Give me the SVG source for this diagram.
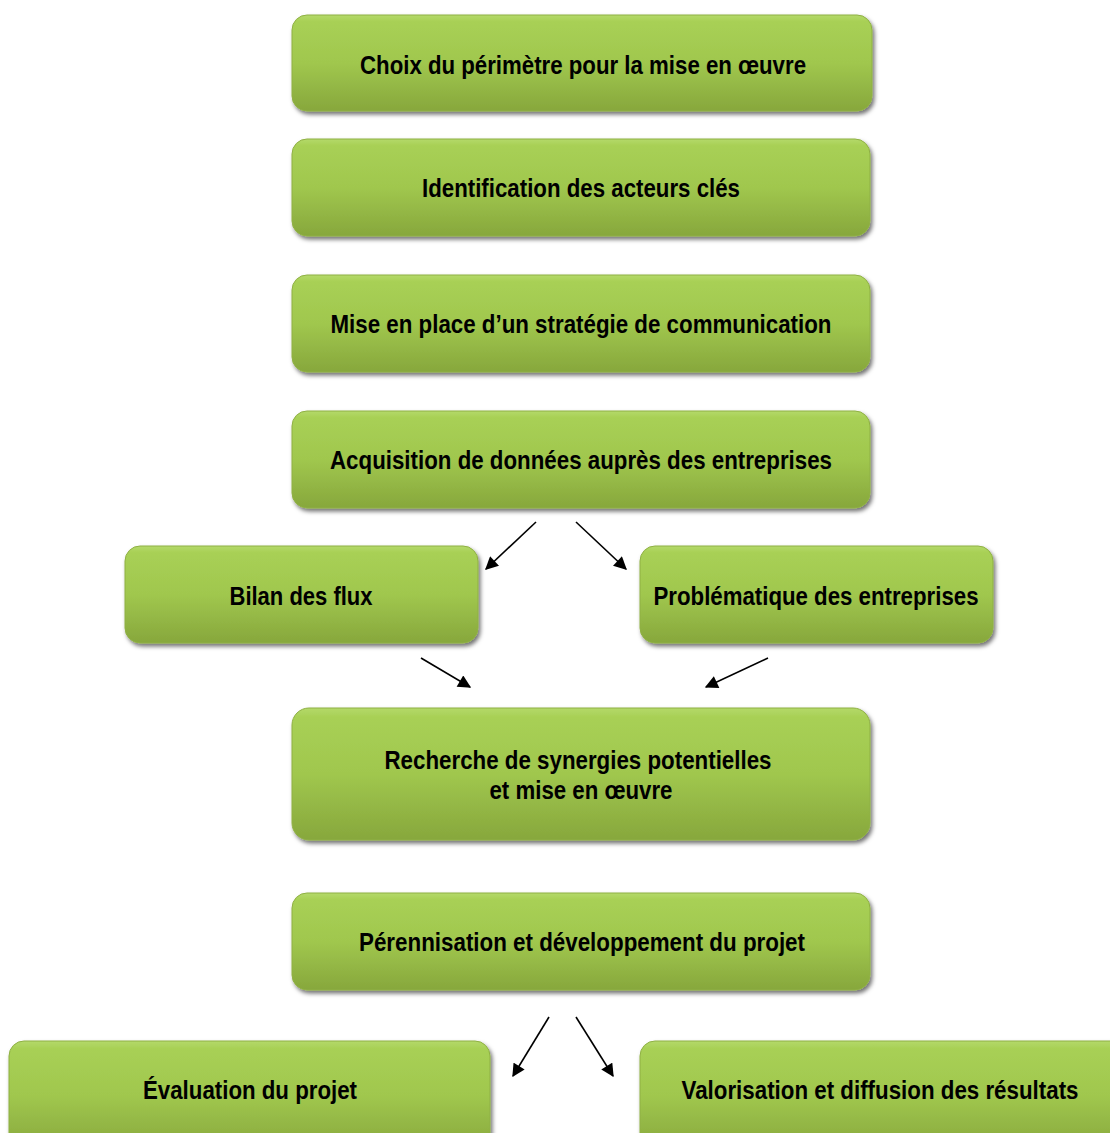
<svg xmlns="http://www.w3.org/2000/svg" width="1110" height="1133" viewBox="0 0 1110 1133">
<defs>
<linearGradient id="g" x1="0" y1="0" x2="0" y2="1">
<stop offset="0" stop-color="#b4d96a"/>
<stop offset="0.07" stop-color="#a8d055"/>
<stop offset="0.5" stop-color="#a0c74e"/>
<stop offset="1" stop-color="#87a73c"/>
</linearGradient>
<filter id="sh" x="-10%" y="-20%" width="120%" height="150%">
<feDropShadow dx="2" dy="3" stdDeviation="2" flood-color="#000" flood-opacity="0.55"/>
</filter>
<marker id="ah" viewBox="0 0 10 10" refX="9" refY="5" markerWidth="14" markerHeight="13" markerUnits="userSpaceOnUse" orient="auto">
<path d="M0,0 L10,5 L0,10 z" fill="#000"/>
</marker>
<style>
.box{fill:url(#g);stroke:#8fb044;stroke-width:1;filter:url(#sh)}
.t{font-family:"Liberation Sans",Arial,sans-serif;font-weight:bold;font-size:26px;fill:#000;text-anchor:middle}
.c{stroke:#000;stroke-width:1.6;fill:none;marker-end:url(#ah)}
</style>
</defs>
<rect width="1110" height="1133" fill="#fff"/>
<g id="n1"><rect class="box" x="292" y="15" width="580" height="96" rx="15"/><text class="t" x="583" y="74" textLength="446" lengthAdjust="spacingAndGlyphs">Choix du périmètre pour la mise en œuvre</text></g>
<g id="n2"><rect class="box" x="292" y="139" width="578" height="97" rx="15"/><text class="t" x="581" y="197" textLength="318" lengthAdjust="spacingAndGlyphs">Identification des acteurs clés</text></g>
<g id="n3"><rect class="box" x="292" y="275" width="578" height="97" rx="15"/><text class="t" x="581" y="333" textLength="501" lengthAdjust="spacingAndGlyphs">Mise en place d’un stratégie de communication</text></g>
<g id="n4"><rect class="box" x="292" y="411" width="578" height="97" rx="15"/><text class="t" x="581" y="469" textLength="502" lengthAdjust="spacingAndGlyphs">Acquisition de données auprès des entreprises</text></g>
<g id="n5"><rect class="box" x="125" y="546" width="353" height="97" rx="15"/><text class="t" x="301" y="605" textLength="143" lengthAdjust="spacingAndGlyphs">Bilan des flux</text></g>
<g id="n6"><rect class="box" x="640" y="546" width="353" height="97" rx="15"/><text class="t" x="816" y="605" textLength="325" lengthAdjust="spacingAndGlyphs">Problématique des entreprises</text></g>
<g id="n7"><rect class="box" x="292" y="708" width="578" height="132" rx="17"/><text class="t" x="578" y="769" textLength="387" lengthAdjust="spacingAndGlyphs">Recherche de synergies potentielles</text><text class="t" x="581" y="799" textLength="183" lengthAdjust="spacingAndGlyphs">et mise en œuvre</text></g>
<g id="n8"><rect class="box" x="292" y="893" width="578" height="97" rx="15"/><text class="t" x="582" y="951" textLength="446" lengthAdjust="spacingAndGlyphs">Pérennisation et développement du projet</text></g>
<g id="n9"><rect class="box" x="9" y="1041" width="481" height="110" rx="15"/><text class="t" x="250" y="1099" textLength="214" lengthAdjust="spacingAndGlyphs">Évaluation du projet</text></g>
<g id="n10"><rect class="box" x="640" y="1041" width="490" height="110" rx="15"/><text class="t" x="880" y="1099" textLength="397" lengthAdjust="spacingAndGlyphs">Valorisation et diffusion des résultats</text></g>
<g id="connectors">
<line class="c" x1="536" y1="522" x2="486" y2="569"/>
<line class="c" x1="576" y1="522" x2="626" y2="569"/>
<line class="c" x1="421" y1="658" x2="470" y2="687"/>
<line class="c" x1="768" y1="658" x2="706" y2="687"/>
<line class="c" x1="549" y1="1017" x2="513" y2="1076"/>
<line class="c" x1="576" y1="1017" x2="613" y2="1076"/>
</g>
</svg>
